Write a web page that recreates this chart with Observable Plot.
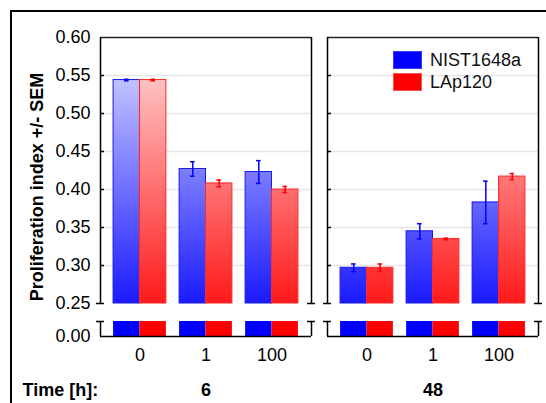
<!DOCTYPE html>
<html>
<head>
<meta charset="utf-8">
<script src="https://cdn.jsdelivr.net/npm/d3@7"></script>
<script src="https://cdn.jsdelivr.net/npm/@observablehq/plot@0.6"></script>
<style>
  html, body { margin: 0; padding: 0; background: #fff; overflow: hidden; }
  #wrap { position: relative; width: 546px; height: 403px; overflow: hidden; font-family: "Liberation Sans", Arial, sans-serif; }
  #outer { position: absolute; left: 10px; top: 10px; width: 600px; height: 500px; border: 2px solid #000; box-sizing: border-box; pointer-events: none; }
  #legend { position: absolute; left: 393px; top: 51px; font-size: 18px; color: #111; }
  .li { display: flex; align-items: center; height: 18px; margin-bottom: 4px; }
  .sw { width: 29px; height: 18px; box-sizing: border-box; margin-right: 8px; }
</style>
</head>
<body>
<div id="wrap"><div id="outer"></div><div id="legend"></div></div>
<script>
// ---- data ----
const times = ["6", "48"];
const concs = ["0", "1", "100"];
const series = ["NIST1648a", "LAp120"];
const seriesColors = ["#0000ff", "#ff0000"];
const nist6 = [0.544, 0.427, 0.423];
const nist6Sem = [0.001, 0.0095, 0.015];
const lap6 = [0.544, 0.408, 0.400];
const lap6Sem = [0.001, 0.0045, 0.004];
const nist48 = [0.297, 0.345, 0.383];
const nist48Sem = [0.005, 0.010, 0.028];
const lap48 = [0.297, 0.335, 0.417];
const lap48Sem = [0.005, 0.001, 0.004];
const yTicks = [0.00, 0.25, 0.30, 0.35, 0.40, 0.45, 0.50, 0.55, 0.60];
const gridTicks = [0.30, 0.35, 0.40, 0.45, 0.50, 0.55];
const yLabel = "Proliferation index +/- SEM";
const timeTitle = "Time [h]:";

// ---- table ----
const table = [];
const src = {
  "6": [[nist6, nist6Sem], [lap6, lap6Sem]],
  "48": [[nist48, nist48Sem], [lap48, lap48Sem]]
};
times.forEach(t => {
  src[t].forEach(([vals, sems], si) => {
    concs.forEach((c, gi) => {
      table.push({time: t, conc: c, gi, si, series: series[si], value: vals[gi], sem: sems[gi]});
    });
  });
});

const BREAK_LO = 0.02, BREAK_HI = 0.25;
const XMIN = -0.598, XMAX = 2.598;
const BW = 0.4;       // bar width in group units
const CAP = 0.06;     // break-cap half width
const ECAP = 0.035;   // error-cap half width
const x1f = d => d.gi - BW + d.si * BW;
const x2f = d => d.gi + d.si * BW;
const xc = d => d.gi - BW / 2 + d.si * BW;

const edges = [XMIN, XMAX];
const caps = [];
edges.forEach(e => { caps.push({e, y: BREAK_HI}); caps.push({e, y: BREAK_LO}); });

const blue = table.filter(d => d.si === 0);
const red = table.filter(d => d.si === 1);

const plot = Plot.plot({
  width: 546,
  height: 403,
  marginLeft: 100,
  marginRight: 8,
  marginTop: 37,
  marginBottom: 67,
  style: {fontFamily: '"Liberation Sans", Arial, sans-serif', fontSize: "18px", background: "transparent", color: "#000", overflow: "visible"},
  fx: {domain: times, paddingInner: 16 / 227, paddingOuter: 0, axis: null},
  x: {type: "linear", domain: [XMIN, XMAX], axis: null},
  y: {type: "linear", domain: [0, BREAK_LO, BREAK_HI, 0.6], range: [336, 321, 303, 37], axis: null},
  marks: [
    Plot.ruleY(gridTicks, {stroke: "#e6e6e6", strokeWidth: 1.5}),
    // upper bar segments
    Plot.rectY(blue, {fx: "time", x1: x1f, x2: x2f, y1: () => BREAK_HI, y2: "value", fill: "url(#gb)", stroke: "#1a1ae6", strokeWidth: 1}),
    Plot.rectY(red, {fx: "time", x1: x1f, x2: x2f, y1: () => BREAK_HI, y2: "value", fill: "url(#gr)", stroke: "#ff2a2a", strokeWidth: 1}),
    // lower bar segments
    Plot.rectY(blue, {fx: "time", x1: x1f, x2: x2f, y1: () => 0, y2: () => BREAK_LO, fill: "#0000ff"}),
    Plot.rectY(red, {fx: "time", x1: x1f, x2: x2f, y1: () => 0, y2: () => BREAK_LO, fill: "#ff0000"}),
    // error bars
    Plot.ruleX(table, {fx: "time", x: xc, y1: d => d.value - d.sem, y2: d => d.value + d.sem, stroke: d => seriesColors[d.si], strokeWidth: 1.5}),
    Plot.ruleY(table, {fx: "time", x1: d => xc(d) - ECAP, x2: d => xc(d) + ECAP, y: d => d.value - d.sem, stroke: d => seriesColors[d.si], strokeWidth: 1.5}),
    Plot.ruleY(table, {fx: "time", x1: d => xc(d) - ECAP, x2: d => xc(d) + ECAP, y: d => d.value + d.sem, stroke: d => seriesColors[d.si], strokeWidth: 1.5}),
    // panel frames with axis break
    Plot.ruleY([0.6], {x1: XMIN, x2: XMAX, stroke: "#222", strokeWidth: 1.5}),
    Plot.ruleY([0], {x1: XMIN, x2: XMAX, stroke: "#000", strokeWidth: 1.5}),
    Plot.ruleX(edges, {y1: BREAK_HI, y2: 0.6, stroke: "#000", strokeWidth: 1.5}),
    Plot.ruleX(edges, {y1: 0, y2: BREAK_LO, stroke: "#000", strokeWidth: 1.5}),
    Plot.ruleY(caps, {x1: d => d.e - CAP, x2: d => d.e + CAP, y: "y", stroke: "#000", strokeWidth: 1.5}),
    Plot.ruleY(gridTicks, {x1: XMIN, x2: XMIN + CAP, stroke: "#000", strokeWidth: 1.5}),
    // axes
    Plot.axisY(yTicks, {anchor: "left", tickSize: 0, tickPadding: 10, tickFormat: d3.format(".2f"), fontSize: 18, label: null}),
    Plot.axisX([0, 1, 2], {anchor: "bottom", tickSize: 0, tickPadding: 12, tickFormat: i => concs[i], fontSize: 18, label: null}),
    // y label
    Plot.text([yLabel], {fx: () => "6", frameAnchor: "left", text: d => d, rotate: -90, dx: -63, textAnchor: "middle", lineAnchor: "middle", fontWeight: "bold", fontSize: 18}),
    // time labels
    Plot.text(times, {fx: d => d, x: () => 1, frameAnchor: "bottom", text: d => d, dy: 54, textAnchor: "middle", lineAnchor: "middle", fontWeight: "bold", fontSize: 18}),
    Plot.text([timeTitle], {fx: () => "6", frameAnchor: "bottom-left", text: d => d, dx: -78, dy: 54, textAnchor: "start", lineAnchor: "middle", fontWeight: "bold", fontSize: 18})
  ]
});

const svgEl = plot.tagName.toLowerCase() === "svg" ? plot : plot.querySelector("svg");
const ys = plot.scale("y");
const defs = d3.select(svgEl).insert("defs", ":first-child");
const gy1 = ys.apply(0.55), gy2 = ys.apply(0.25);
const gb = defs.append("linearGradient").attr("id", "gb").attr("gradientUnits", "userSpaceOnUse")
  .attr("x1", 0).attr("x2", 0).attr("y1", gy1).attr("y2", gy2);
gb.append("stop").attr("offset", 0).attr("stop-color", "#c4c4ff");
gb.append("stop").attr("offset", 1).attr("stop-color", "#1a1aff");
const gr = defs.append("linearGradient").attr("id", "gr").attr("gradientUnits", "userSpaceOnUse")
  .attr("x1", 0).attr("x2", 0).attr("y1", gy1).attr("y2", gy2);
gr.append("stop").attr("offset", 0).attr("stop-color", "#ffc4c4");
gr.append("stop").attr("offset", 1).attr("stop-color", "#ff1a1a");

const wrap = document.getElementById("wrap");
wrap.insertBefore(plot, wrap.firstChild);
plot.style.position = "absolute";
plot.style.left = "0px";
plot.style.top = "0px";

const legend = d3.select("#legend");
series.forEach((s, i) => {
  const row = legend.append("div").attr("class", "li");
  row.append("div").attr("class", "sw")
    .style("background", seriesColors[i])
    .style("border", "1px solid " + (i === 0 ? "#3a3aff" : "#ff5050"));
  row.append("span").text(s);
});
</script>
</body>
</html>
